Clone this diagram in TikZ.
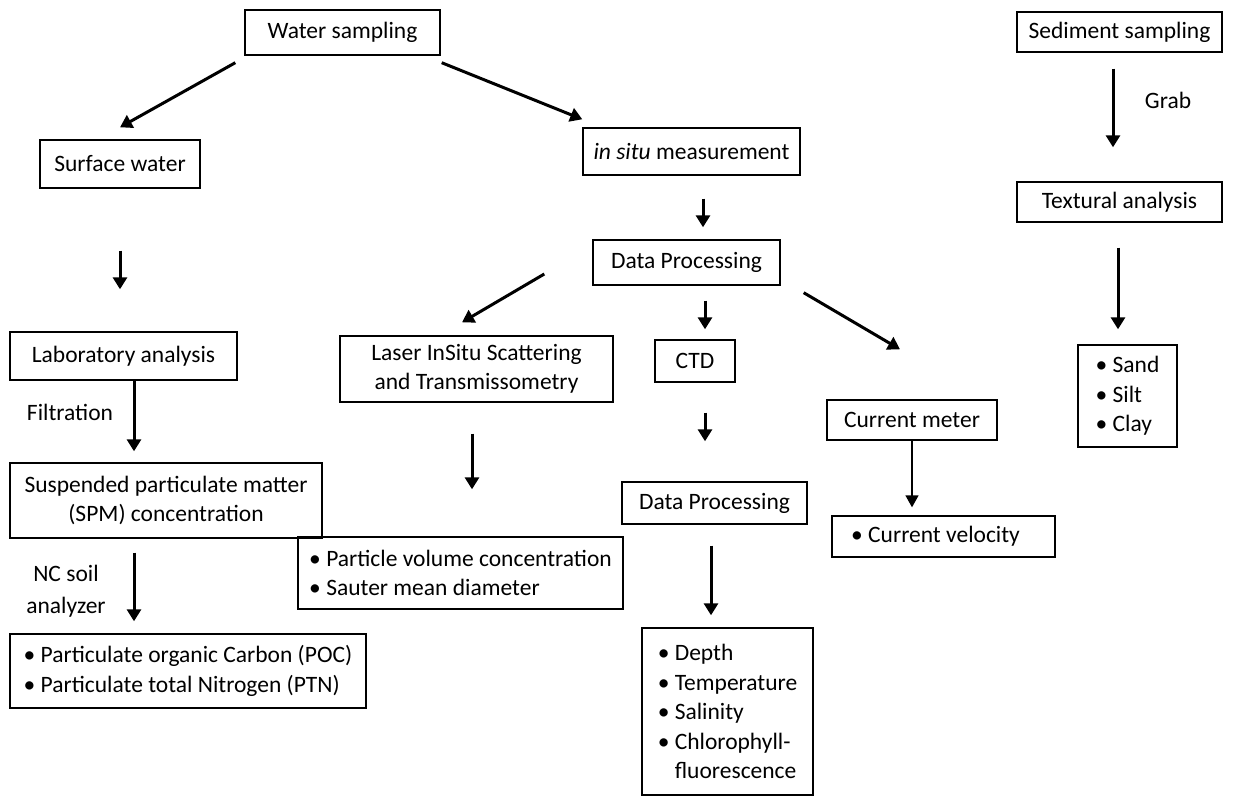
\documentclass[tikz,border=0pt]{standalone}
\usepackage{fontspec}
\setmainfont{Carlito}
\usetikzlibrary{arrows.meta}
\begin{document}
\begin{tikzpicture}[x=1pt,y=-1pt,
  box/.style={draw, line width=1.4pt, inner sep=0pt, font=\fontsize{23.5}{29}\selectfont, align=center},
  blist/.style={draw, line width=1.4pt, inner sep=0pt, font=\fontsize{23.5}{29.5}\selectfont, align=left},
  arr/.style={line width=3pt, -{Triangle[width=14pt,length=12pt]}},
  thinarr/.style={line width=1.6pt, -{Triangle[width=13pt,length=12pt]}},
  lbl/.style={font=\fontsize{23.5}{32}\selectfont, align=center, inner sep=0pt}]
\useasboundingbox (0,0) rectangle (1236,798);
\fill[white] (0,0) rectangle (1236,798);
% nodes
\node[box, minimum width=195, minimum height=45] (ws) at (342.5,32.5) {Water sampling};
\node[box, minimum width=160, minimum height=48] (sw) at (120,164) {Surface water};
\node[box, minimum width=217, minimum height=47] (is) at (691.5,151.5) {\textit{in situ} measurement};
\node[box, minimum width=187, minimum height=45] (dp1) at (686.5,262.5) {Data Processing};
\node[box, minimum width=227, minimum height=48] (lab) at (123.5,356) {Laboratory analysis};
\node[box, minimum width=273, minimum height=66] (las) at (476.5,369) {Laser InSitu Scattering\\and Transmissometry};
\node[box, minimum width=80, minimum height=42] (ctd) at (695,361) {CTD};
\node[box, minimum width=170, minimum height=40] (cm) at (912,420) {Current meter};
\node[box, minimum width=205, minimum height=40] (sed) at (1119.5,32) {Sediment sampling};
\node[box, minimum width=205, minimum height=40] (tex) at (1119.5,202) {Textural analysis};
\node[box, minimum width=312, minimum height=75] (spm) at (166,500.5) {Suspended particulate matter\\(SPM) concentration};
\node[box, minimum width=185, minimum height=42] (dp2) at (714.5,503) {Data Processing};
\node[blist, minimum width=325, minimum height=72] (pv) at (460.5,573) {• Particle volume concentration\\• Sauter mean diameter};
\node[blist, minimum width=356, minimum height=74] (poc) at (188,671) {• Particulate organic Carbon (POC)\\• Particulate total Nitrogen (PTN)};
\node[blist, minimum width=171, minimum height=167] (dep) at (727.5,711.5) {• Depth\\• Temperature\\• Salinity\\• Chlorophyll-\\\phantom{• }fluorescence};
\node[blist, minimum width=223, minimum height=41] (cv) at (943.5,536.5) {• Current velocity\kern16pt};
\node[blist, minimum width=99, minimum height=102] (snd) at (1127.5,396) {• Sand\\• Silt\\• Clay};
% labels
\node[lbl] (lgrab) at (1168,100) {Grab};
\node[lbl] (lfil) at (70,412) {Filtration};
\node[lbl] (lnc) at (66,591) {NC soil\\analyzer};
% connectors
\draw[arr] ([shift={(-9pt,-7pt)}]ws.south west) -- ([yshift=12pt]sw.north);
\draw[arr] ([shift={(1pt,-7pt)}]ws.south east) -- ([yshift=8pt]is.north west);
\draw[arr] ([yshift=-62pt]sw.south) -- ([shift={(-3.5pt,42pt)}]lab.north);
\draw[arr] ([shift={(11.5pt,-23pt)}]is.south) -- ([shift={(16.5pt,12pt)}]dp1.north);
\draw[arr] ([shift={(-48pt,-11.5pt)}]dp1.west) -- ([shift={(-14.5pt,13pt)}]las.north);
\draw[arr] ([shift={(18.5pt,-15pt)}]dp1.south) -- ([shift={(10pt,10pt)}]ctd.north);
\draw[arr] ([shift={(23pt,-7pt)}]dp1.south east) -- ([shift={(-12pt,50pt)}]cm.north);
\draw[arr] ([shift={(10pt,-30pt)}]ctd.south) -- ([shift={(-9.5pt,40pt)}]dp2.north);
\draw[arr] ([shift={(-3.5pt,-21pt)}]dp2.south) -- ([shift={(-16.5pt,12pt)}]dep.north);
\draw[arr] ([shift={(-4.5pt,-31pt)}]las.south) -- ([shift={(11.5pt,47pt)}]pv.north);
\draw[arr] ([xshift=10.5pt]lab.south) -- ([shift={(-32pt,11pt)}]spm.north);
\draw[arr] ([shift={(-32pt,-14pt)}]spm.south) -- ([shift={(-54pt,12pt)}]poc.north);
\draw[thinarr] (cm.south) -- ([shift={(-31.5pt,8pt)}]cv.north);
\draw[arr] ([shift={(-6.5pt,-16pt)}]sed.south) -- ([shift={(-6.5pt,34pt)}]tex.north);
\draw[arr] ([shift={(-1.5pt,-25pt)}]tex.south) -- ([shift={(-9.5pt,15pt)}]snd.north);
\end{tikzpicture}
\end{document}
